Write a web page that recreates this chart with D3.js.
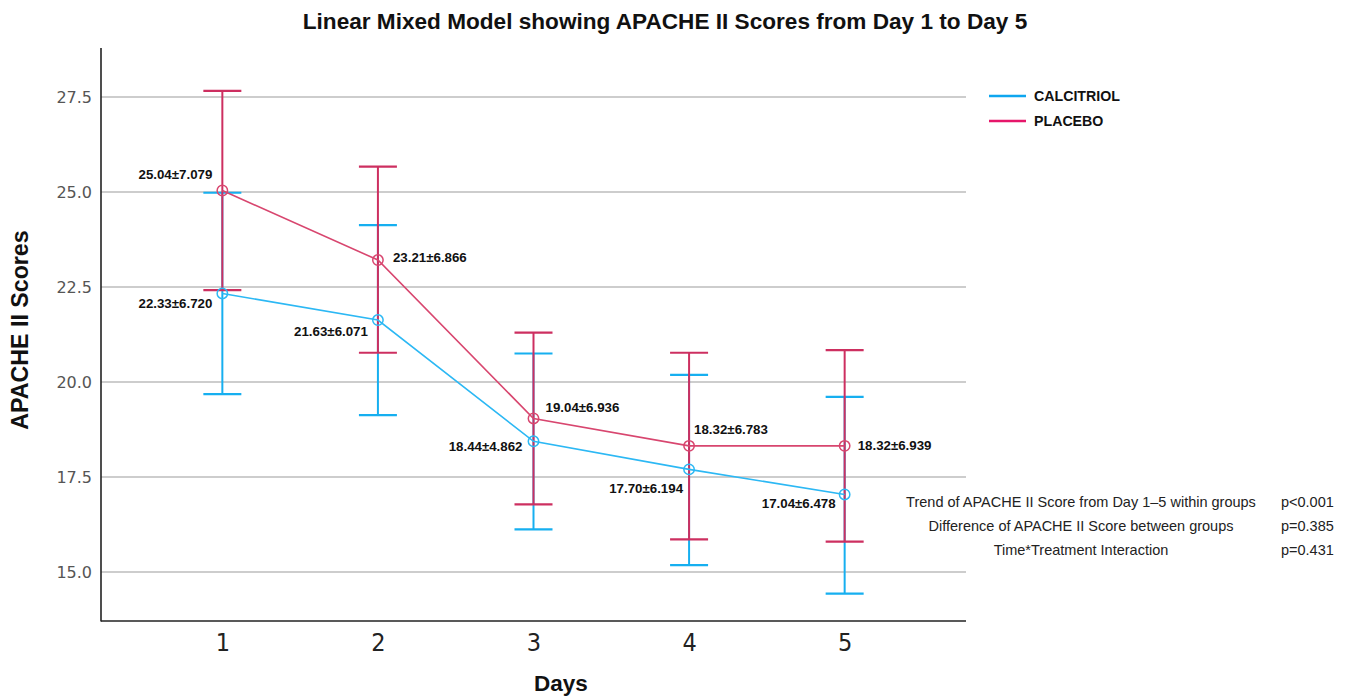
<!DOCTYPE html>
<html>
<head>
<meta charset="utf-8">
<script src="https://cdn.jsdelivr.net/npm/d3@7/dist/d3.min.js"></script>
<style>
  html, body { margin: 0; padding: 0; background: #fff; }
  svg { display: block; }
</style>
</head>
<body>
<svg id="chart" width="1351" height="696"></svg>
<script>
// ---------------- data ----------------
const days = [1, 2, 3, 4, 5];
const seriesNames = ["CALCITRIOL", "PLACEBO"];
const calcitriolMean = [22.33, 21.63, 18.44, 17.70, 17.04];
const calcitriolSD = [6.720, 6.071, 4.862, 6.194, 6.478];
const calcitriolLow = [19.68, 19.13, 16.12, 15.18, 14.43];
const calcitriolHigh = [24.98, 24.13, 20.75, 20.19, 19.61];
const placeboMean = [25.04, 23.21, 19.04, 18.32, 18.32];
const placeboSD = [7.079, 6.866, 6.936, 6.783, 6.939];
const placeboLow = [22.42, 20.77, 16.78, 15.86, 15.80];
const placeboHigh = [27.66, 25.67, 21.30, 20.77, 20.84];
const yTicks = [15.0, 17.5, 20.0, 22.5, 25.0, 27.5];
const statLabels = [
  "Trend of APACHE II Score from Day 1\u20135 within groups",
  "Difference of APACHE II Score between groups",
  "Time*Treatment Interaction"
];
const statPValues = ["p<0.001", "p=0.385", "p=0.431"];

// ---------------- layout ----------------
const svg = d3.select("#chart");
const plotLeft = 101, plotRight = 966, plotTop = 48, plotBottom = 621;
const x = d3.scaleLinear().domain([0.22, 5.78]).range([plotLeft, plotRight]);
const y = d3.scaleLinear().domain([13.71, 28.79]).range([plotBottom, plotTop]);

const colors = {
  CALCITRIOL: { line: "#2cb8f4", bar: "#16aff0", legend: "#0ea6ef" },
  PLACEBO: { line: "#d8466f", bar: "#cd2f60", legend: "#e6166a" }
};

// title
svg.append("text")
  .attr("x", 665).attr("y", 29)
  .attr("text-anchor", "middle")
  .attr("font-family", "Liberation Sans, Arial, sans-serif")
  .attr("font-weight", "bold")
  .attr("font-size", 22.6)
  .attr("fill", "#111")
  .text("Linear Mixed Model showing APACHE II Scores from Day 1 to Day 5");

// gridlines
svg.append("g").selectAll("line").data(yTicks).join("line")
  .attr("x1", plotLeft).attr("x2", plotRight)
  .attr("y1", d => y(d)).attr("y2", d => y(d))
  .attr("stroke", "#bdbdbd").attr("stroke-width", 1.5);

// y axis
const yAxis = d3.axisLeft(y).tickValues(yTicks).tickFormat(d3.format(".1f")).tickSize(0).tickPadding(9);
const gy = svg.append("g").attr("transform", `translate(${plotLeft},0)`).call(yAxis);
gy.select(".domain").remove();
gy.selectAll("text")
  .attr("font-family", "DejaVu Sans, sans-serif")
  .attr("font-size", 16)
  .attr("fill", "#555");

// x axis
const xAxis = d3.axisBottom(x).tickValues(days).tickFormat(d3.format("d")).tickSize(0).tickPadding(12);
const gx = svg.append("g").attr("transform", `translate(0,${plotBottom})`).call(xAxis);
gx.select(".domain").remove();
gx.selectAll("text")
  .attr("font-family", "DejaVu Sans Condensed, DejaVu Sans, sans-serif")
  .attr("font-size", 25)
  .attr("fill", "#222");

// axis lines
svg.append("line").attr("x1", plotLeft).attr("x2", plotLeft).attr("y1", plotTop).attr("y2", plotBottom + 0.5)
  .attr("stroke", "#222").attr("stroke-width", 1.6);
svg.append("line").attr("x1", plotLeft).attr("x2", plotRight).attr("y1", plotBottom).attr("y2", plotBottom)
  .attr("stroke", "#222").attr("stroke-width", 1.6);

// axis titles
svg.append("text")
  .attr("transform", "translate(28,330) rotate(-90)")
  .attr("text-anchor", "middle")
  .attr("font-family", "Liberation Sans, Arial, sans-serif")
  .attr("font-weight", "bold").attr("font-size", 23.2)
  .attr("fill", "#111")
  .text("APACHE II Scores");
svg.append("text")
  .attr("x", 561).attr("y", 691)
  .attr("text-anchor", "middle")
  .attr("font-family", "Liberation Sans, Arial, sans-serif")
  .attr("font-weight", "bold").attr("font-size", 22.5)
  .attr("fill", "#111")
  .text("Days");

// series objects
const series = [
  { name: "CALCITRIOL", mean: calcitriolMean, sd: calcitriolSD, low: calcitriolLow, high: calcitriolHigh },
  { name: "PLACEBO", mean: placeboMean, sd: placeboSD, low: placeboLow, high: placeboHigh }
];

const capHalf = 19;
// error bars (calcitriol under placebo)
series.forEach(s => {
  const g = svg.append("g");
  const c = colors[s.name].bar;
  days.forEach((d, i) => {
    g.append("line").attr("x1", x(d)).attr("x2", x(d))
      .attr("y1", y(s.low[i])).attr("y2", y(s.high[i]))
      .attr("stroke", c).attr("stroke-width", 2);
    [s.low[i], s.high[i]].forEach(v => {
      g.append("line").attr("x1", x(d) - capHalf).attr("x2", x(d) + capHalf)
        .attr("y1", y(v)).attr("y2", y(v))
        .attr("stroke", c).attr("stroke-width", 2.2);
    });
  });
});

// lines and markers
const lineGen = d3.line().x((d, i) => x(days[i])).y(d => y(d));
series.forEach(s => {
  const c = colors[s.name].line;
  svg.append("path").datum(s.mean)
    .attr("d", lineGen)
    .attr("fill", "none").attr("stroke", c).attr("stroke-width", 1.6);
  svg.append("g").selectAll("circle").data(s.mean).join("circle")
    .attr("cx", (d, i) => x(days[i])).attr("cy", d => y(d))
    .attr("r", 5.2)
    .attr("fill", "none").attr("stroke", c).attr("stroke-width", 1.5);
});

// value labels: placement offsets per series/day
const labelPlacement = {
  CALCITRIOL: [[-10, 10, "end"], [-10, 11, "end"], [-11, 5, "end"], [-6, 19, "end"], [-9, 9, "end"]],
  PLACEBO: [[-10, -16, "end"], [15, -3, "start"], [12, -11, "start"], [5, -16, "start"], [13, 0, "start"]]
};
series.forEach(s => {
  days.forEach((d, i) => {
    const p = labelPlacement[s.name][i];
    svg.append("text")
      .attr("x", x(d) + p[0]).attr("y", y(s.mean[i]) + p[1])
      .attr("dy", "0.35em")
      .attr("text-anchor", p[2])
      .attr("font-family", "Liberation Sans, Arial, sans-serif")
      .attr("font-weight", "bold").attr("font-size", 13.3)
      .attr("fill", "#111")
      .text(s.mean[i].toFixed(2) + "\u00b1" + s.sd[i].toFixed(3));
  });
});

// legend
const legend = svg.append("g");
seriesNames.forEach((n, i) => {
  const ly = 96 + i * 25;
  legend.append("line").attr("x1", 989).attr("x2", 1026).attr("y1", ly).attr("y2", ly)
    .attr("stroke", colors[n].legend).attr("stroke-width", 2.6);
  legend.append("text").attr("x", 1034).attr("y", ly).attr("dy", "0.35em")
    .attr("font-family", "Liberation Sans, Arial, sans-serif")
    .attr("font-weight", "bold").attr("font-size", 14.2)
    .attr("fill", "#111").text(n);
});

// statistics annotation
statLabels.forEach((t, i) => {
  const ty = 502 + i * 24;
  svg.append("text").attr("x", 1081).attr("y", ty).attr("dy", "0.35em")
    .attr("text-anchor", "middle")
    .attr("font-family", "Liberation Sans, Arial, sans-serif")
    .attr("font-size", 14.5).attr("fill", "#222").text(t);
  svg.append("text").attr("x", 1281).attr("y", ty).attr("dy", "0.35em")
    .attr("font-family", "Liberation Sans, Arial, sans-serif")
    .attr("font-size", 14.5).attr("fill", "#222").text(statPValues[i]);
});
</script>
</body>
</html>
